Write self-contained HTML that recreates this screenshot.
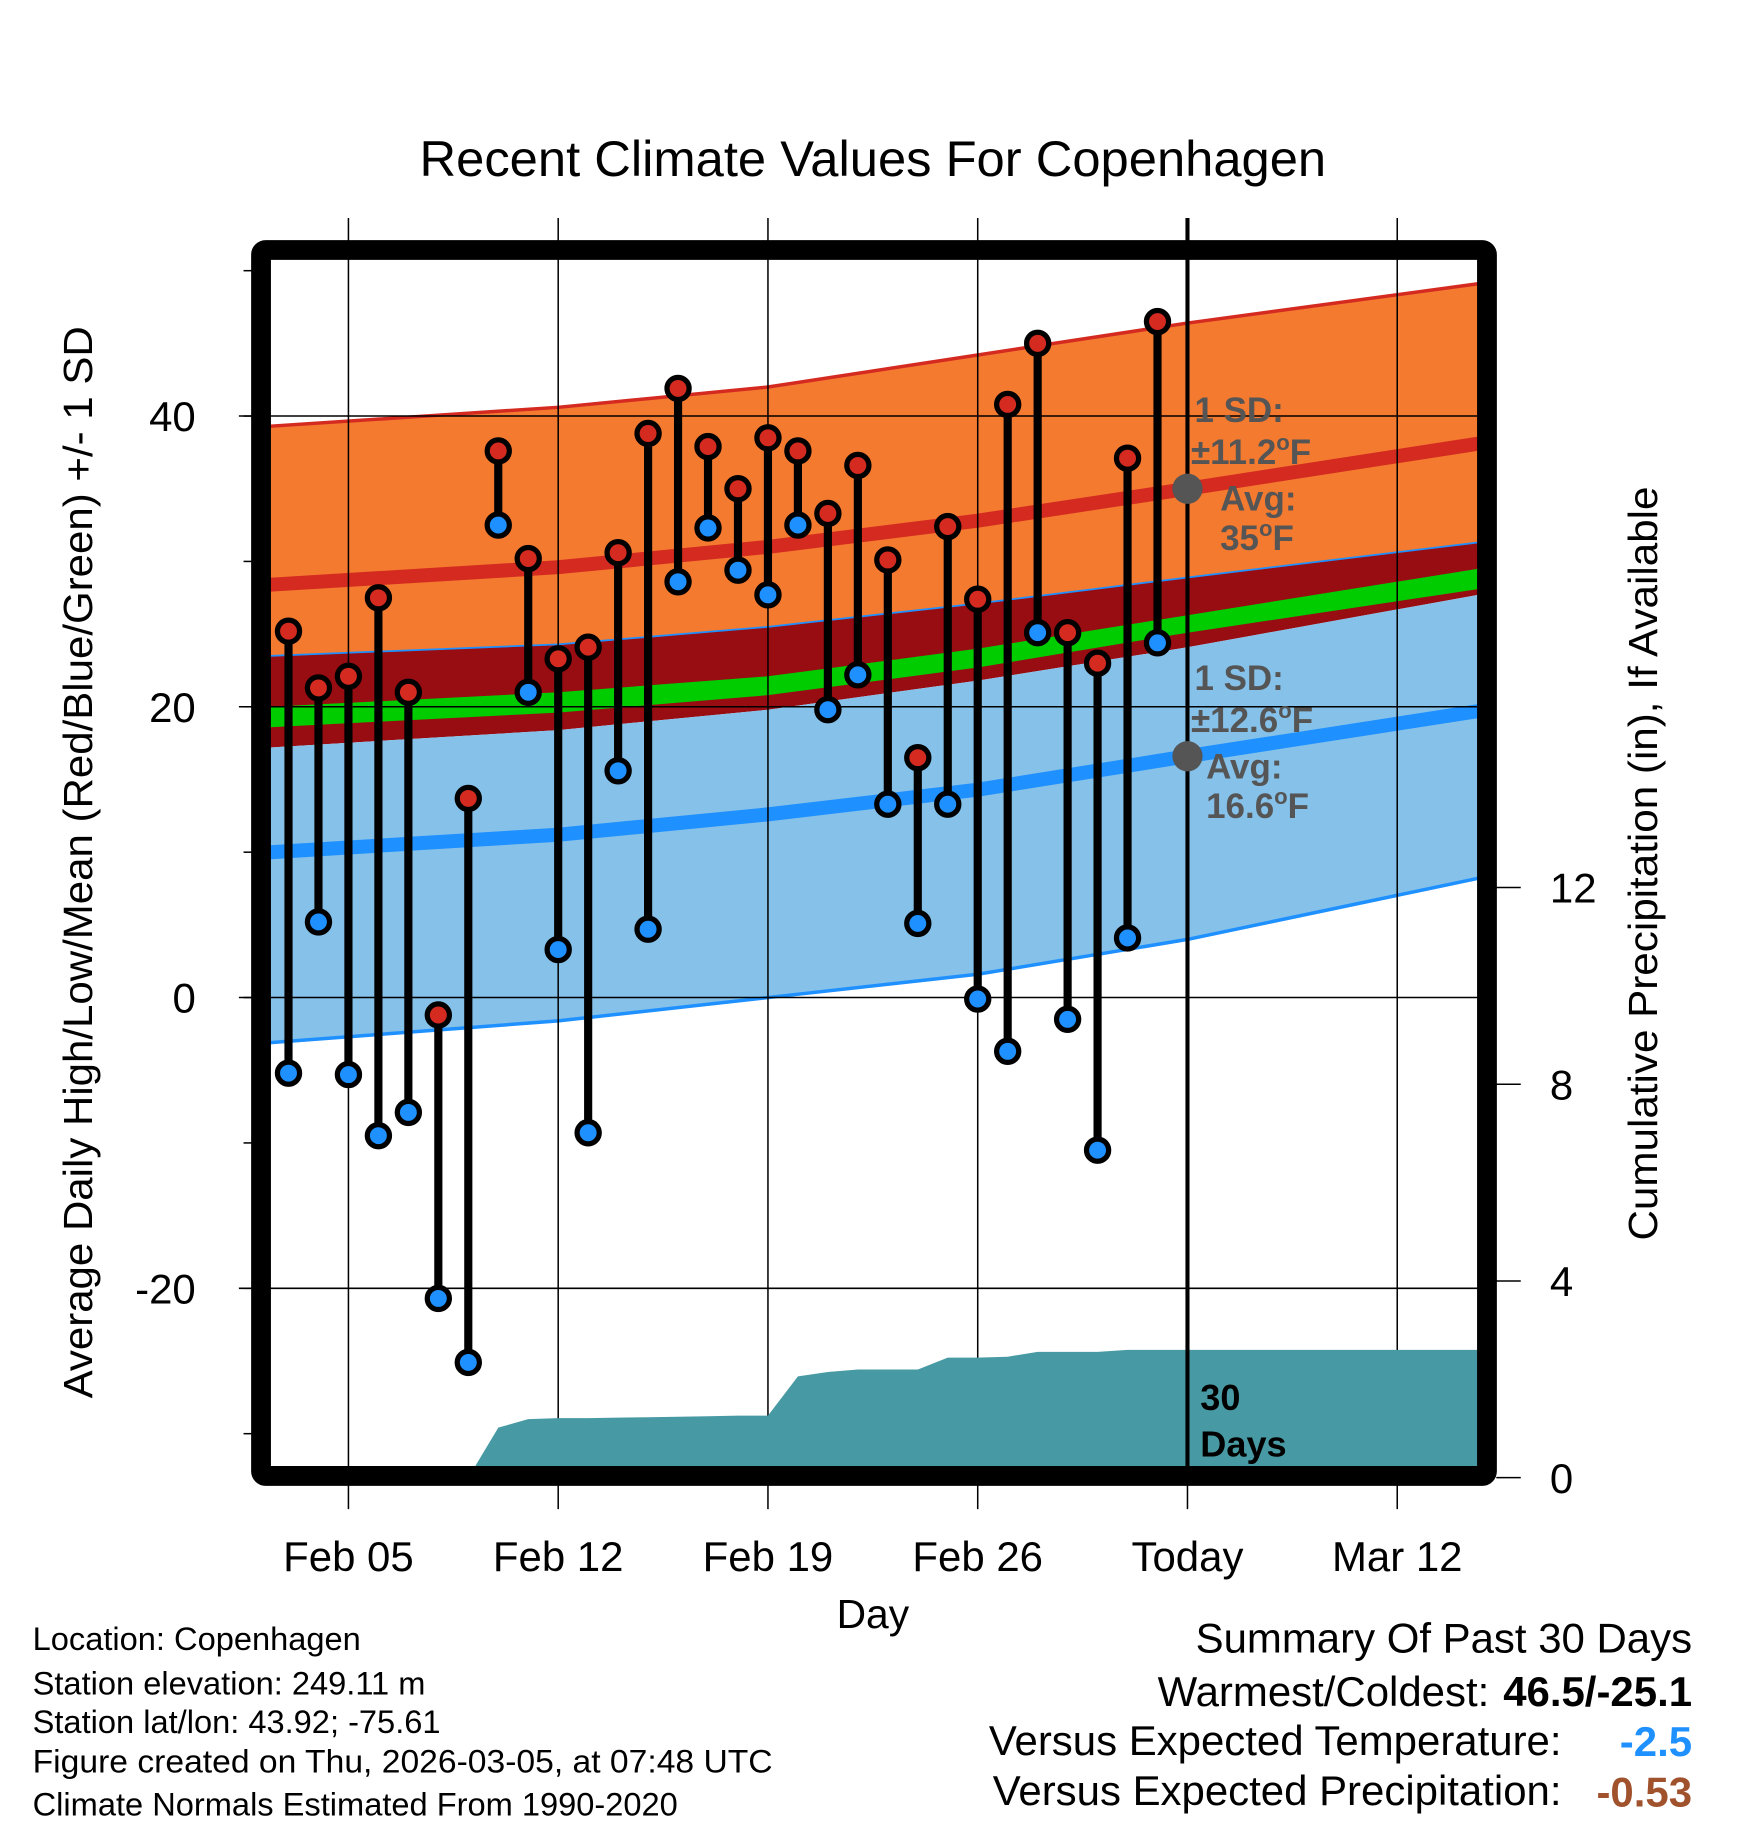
<!DOCTYPE html>
<html><head><meta charset="utf-8"><style>
html,body{margin:0;padding:0;background:#fff}
svg{display:block;font-family:"Liberation Sans",Arial,sans-serif}
</style></head><body>
<svg id="chart" width="1748" height="1828" viewBox="0 0 1500 1568.6" xmlns="http://www.w3.org/2000/svg">
<g id="bands"></g>
<g id="grid"></g>
<g id="precip"></g>
<g id="marks"></g>
<g id="axes"></g>
<text x="749" y="151" font-size="43" text-anchor="middle" textLength="778" lengthAdjust="spacingAndGlyphs">Recent Climate Values For Copenhagen</text>
<text transform="translate(79,740) rotate(-90)" font-size="35" text-anchor="middle" textLength="920" lengthAdjust="spacingAndGlyphs">Average Daily High/Low/Mean (Red/Blue/Green) +/- 1 SD</text>
<text transform="translate(1422,741) rotate(-90)" font-size="35" text-anchor="middle" textLength="647" lengthAdjust="spacingAndGlyphs">Cumulative Precipitation (in), If Available</text>
<text x="749" y="1397" font-size="35" text-anchor="middle">Day</text>
<g font-size="30" font-weight="bold" fill="#555">
<text x="1025" y="362">1 SD:</text>
<text x="1022" y="398">±11.2<tspan font-size="19" dy="-12">o</tspan><tspan dy="12">F</tspan></text>
<text x="1047" y="438">Avg:</text>
<text x="1047" y="472">35<tspan font-size="19" dy="-12">o</tspan><tspan dy="12">F</tspan></text>
</g>
<g font-size="30" font-weight="bold" fill="#555">
<text x="1025" y="592">1 SD:</text>
<text x="1022" y="628">±12.6<tspan font-size="19" dy="-12">o</tspan><tspan dy="12">F</tspan></text>
<text x="1035" y="668">Avg:</text>
<text x="1035" y="702">16.6<tspan font-size="19" dy="-12">o</tspan><tspan dy="12">F</tspan></text>
</g>
<g font-size="31" font-weight="bold">
<text x="1030" y="1210">30</text><text x="1030" y="1250">Days</text>
</g>
<g font-size="28">
<text x="28" y="1416">Location: Copenhagen</text>
<text x="28" y="1454">Station elevation: 249.11 m</text>
<text x="28" y="1487">Station lat/lon: 43.92; -75.61</text>
<text x="28" y="1521" textLength="635" lengthAdjust="spacingAndGlyphs">Figure created on Thu, 2026-03-05, at 07:48 UTC</text>
<text x="28" y="1558">Climate Normals Estimated From 1990-2020</text>
</g>
<g font-size="36">
<text x="1452" y="1418" text-anchor="end">Summary Of Past 30 Days</text>
<text x="1278" y="1464" text-anchor="end">Warmest/Coldest:</text>
<text x="1452" y="1464" text-anchor="end" font-weight="bold">46.5/-25.1</text>
<text x="1340" y="1506" text-anchor="end">Versus Expected Temperature:</text>
<text x="1452" y="1507" text-anchor="end" font-weight="bold" fill="#1e90ff">-2.5</text>
<text x="1340" y="1549" text-anchor="end">Versus Expected Precipitation:</text>
<text x="1452" y="1550" text-anchor="end" font-weight="bold" fill="#a0522d">-0.53</text>
</g>
</svg>
<script>
const days=[3,4,5,6,7,8,9,10,11,12,13,14,15,16,17,18,19,20,21,22,23,24,25,26,27,28,29,30,31,32];
const highs=[25.2,21.3,22.1,27.5,21.0,-1.2,13.7,37.6,30.2,23.3,24.1,30.6,38.8,41.9,37.9,35.0,38.5,37.6,33.3,36.6,30.1,16.5,32.4,27.4,40.8,45.0,25.1,23.0,37.1,46.5];
const lows=[-5.2,5.2,-5.3,-9.5,-7.9,-20.7,-25.1,32.5,21.0,3.3,-9.3,15.6,4.7,28.6,32.3,29.4,27.7,32.5,19.8,22.2,13.3,5.1,13.3,-0.1,-3.7,25.1,-1.5,-10.5,4.1,24.4];
const precip=[0,0,0,0,0,0,0,1.02,1.19,1.21,1.21,1.22,1.23,1.24,1.25,1.26,1.26,2.06,2.15,2.2,2.2,2.2,2.44,2.44,2.46,2.56,2.56,2.56,2.6,2.6];
const normDays=[2.4,12,19,26,33,42.7];
const hiUp=[39.3,40.6,42.0,44.2,46.4,49.1];
const hiAvg=[28.4,29.6,31.0,32.8,35.0,38.1];
const hiLo=[23.5,24.3,25.5,27.1,28.9,31.3];
const grTop=[20.0,21.0,22.1,24.0,26.3,29.5];
const grBot=[18.6,19.6,20.8,22.7,25.1,28.1];
const loUp=[17.2,18.4,19.8,21.8,24.1,27.7];
const loAvg=[10.0,11.2,12.6,14.3,16.6,19.7];
const loLo=[-3.1,-1.6,0.0,1.6,4.0,8.2];
const yTicks=[-20,0,20,40];
const yMinor=[-30,-10,10,30,50];
const pTicks=[0,4,8,12];
const xTickDays=[5,12,19,26,33,40];
const xTickLabels=["Feb 05","Feb 12","Feb 19","Feb 26","Today","Mar 12"];
const todayDay=33;

const NS="http://www.w3.org/2000/svg";
const L=232,R=1268,T=222,B=1260;
const x=d=>299+(d-5)*180/7;
const y=v=>856-v*12.475;
const yp=p=>1268-p*42.2;
function mk(parent,tag,attrs){const e=document.createElementNS(NS,tag);for(const k in attrs)e.setAttribute(k,attrs[k]);parent.appendChild(e);return e;}
const bands=document.getElementById('bands');
function line(arr){return normDays.map((d,i)=>x(d).toFixed(1)+','+y(arr[i]).toFixed(1));}
function area(top,bot,fill,name){
  const pts=line(top).concat(line(bot).reverse());
  const p=mk(bands,'polygon',{points:pts.join(' '),fill:fill});
  
  
}
function pl(arr,stroke,w,name){
  const p=mk(bands,'polyline',{points:line(arr).join(' '),fill:'none',stroke:stroke,'stroke-width':w});
  
  
}
area(hiUp,hiLo,'#f47a30','high-sd-band');
area(hiLo,loUp,'#970d12','overlap-band');
area(grTop,grBot,'#00cc00','mean-band');
area(loUp,loLo,'#85c1e9','low-sd-band');
pl(hiUp,'#d42a20',3,'high-upper-line');
pl(hiAvg,'#d42a20',12,'high-average-line');
pl(hiLo,'#1e90ff',1.5,'high-lower-line');
pl(loAvg,'#1e90ff',12,'low-average-line');
pl(loLo,'#1e90ff',3,'low-lower-line');

const grid=document.getElementById('grid');
xTickDays.forEach(d=>{
  const g=mk(grid,'line',{x1:x(d),x2:x(d),y1:187,y2:1295,stroke:'#000','stroke-width':1.3});
  
  
});
yTicks.forEach(v=>{
  const g=mk(grid,'line',{x1:205,x2:R,y1:y(v),y2:y(v),stroke:'#000','stroke-width':1.3});
  
  
});

const pg=document.getElementById('precip');
let pts=[x(days[0])+','+yp(0)];
days.forEach((d,i)=>pts.push(x(d).toFixed(1)+','+yp(precip[i]).toFixed(1)));
pts.push(R+','+yp(precip[precip.length-1]).toFixed(1));
pts.push(R+','+yp(0));
const pa=mk(pg,'polygon',{points:pts.join(' '),fill:'#479aa3'});



const marks=document.getElementById('marks');
const tl=mk(marks,'line',{x1:x(todayDay),x2:x(todayDay),y1:187,y2:B,stroke:'#000','stroke-width':3.5});


[[hiAvg,'high-avg-dot'],[loAvg,'low-avg-dot']].forEach(([arr,n])=>{
  const c=mk(marks,'circle',{cx:x(todayDay),cy:y(arr[4]),r:13,fill:'#555'});
  
  
});
days.forEach((d,i)=>{
  const s=mk(marks,'line',{x1:x(d),x2:x(d),y1:y(highs[i]),y2:y(lows[i]),stroke:'#000','stroke-width':7});
  
  
  const h=mk(marks,'circle',{cx:x(d),cy:y(highs[i]),r:9.5,fill:'#d42a20',stroke:'#000','stroke-width':4.5});
  
  
  const l=mk(marks,'circle',{cx:x(d),cy:y(lows[i]),r:9.5,fill:'#1e90ff',stroke:'#000','stroke-width':4.5});
  
  
});

const axes=document.getElementById('axes');
const fr=mk(axes,'rect',{x:224,y:214.5,width:1052,height:1052,fill:'none',stroke:'#000','stroke-width':17,rx:4});


yTicks.concat(yMinor).forEach(v=>{
  const t=mk(axes,'line',{x1:209,x2:216,y1:y(v),y2:y(v),stroke:'#000','stroke-width':1.3});
  
  
});
yTicks.forEach(v=>{
  const t=mk(axes,'text',{x:168,y:y(v)+13,'font-size':36,'text-anchor':'end'});
  t.textContent=String(v);
  
  
});
pTicks.forEach(p=>{
  const t=mk(axes,'line',{x1:1284,x2:1305,y1:yp(p),y2:yp(p),stroke:'#000','stroke-width':1.3});
  
  
  const lb=mk(axes,'text',{x:1330,y:yp(p)+13,'font-size':36});
  lb.textContent=String(p);
  
  
});
xTickDays.forEach((d,i)=>{
  const t=mk(axes,'text',{x:x(d),y:1348,'font-size':36,'text-anchor':'middle'});
  t.textContent=xTickLabels[i];
  
  
});
</script>
</body></html>
